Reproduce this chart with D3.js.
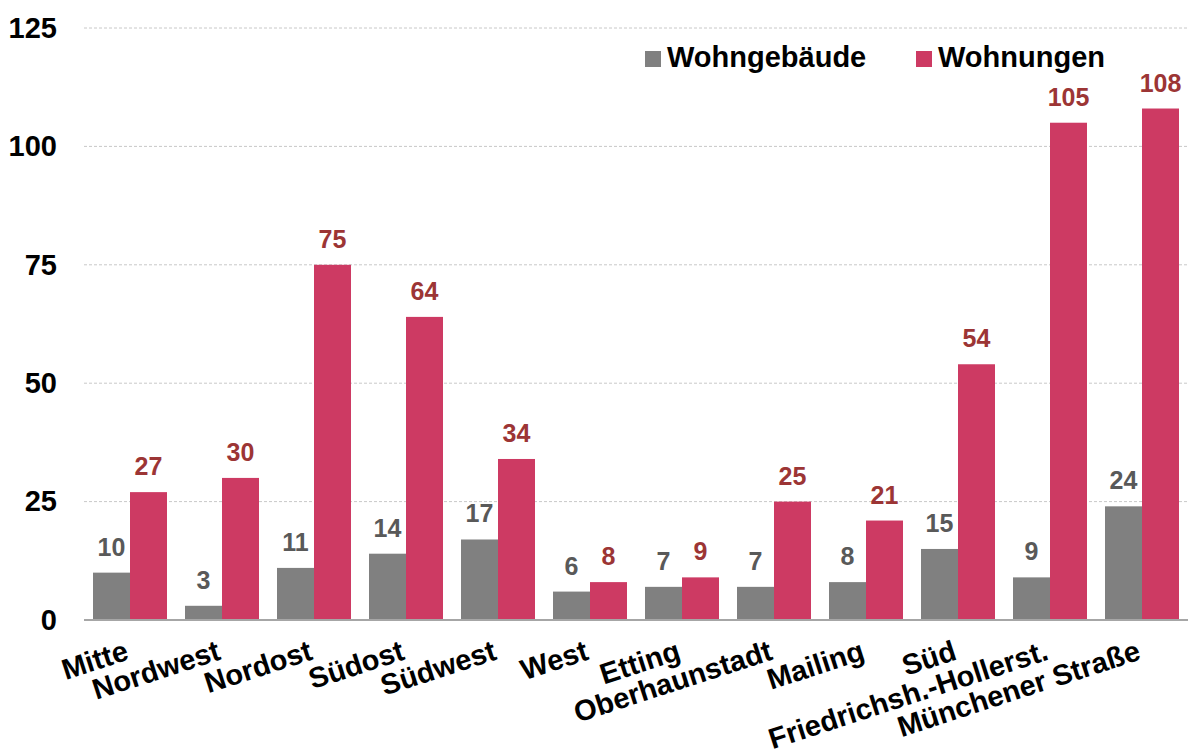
<!DOCTYPE html>
<html>
<head>
<meta charset="utf-8">
<script src="https://cdn.jsdelivr.net/npm/d3@7"></script>
<style>
  html, body { margin: 0; padding: 0; background: #fff; }
  svg { display: block; font-family: "Liberation Sans", Arial, sans-serif; }
</style>
</head>
<body>
<svg id="chart" width="1192" height="756"></svg>
<script>
// Stadtbezirke
const categories = ["Mitte", "Nordwest", "Nordost", "Südost", "Südwest", "West", "Etting",
  "Oberhaunstadt", "Mailing", "Süd", "Friedrichsh.-Hollerst.", "Münchener Straße"];
const seriesNames = ["Wohngebäude", "Wohnungen"];
const wohngebaeude = [10, 3, 11, 14, 17, 6, 7, 7, 8, 15, 9, 24];
const wohnungen = [27, 30, 75, 64, 34, 8, 9, 25, 21, 54, 105, 108];
const yTicks = [0, 25, 50, 75, 100, 125];

const barColors = ["#808080", "#CD3A63"];
const labelColors = ["#595959", "#9C3535"];

const svg = d3.select("#chart");
const plot = { left: 84, right: 1188, top: 28, bottom: 620 };

const x = d3.scaleBand().domain(categories)
  .range([plot.left, plot.right])
  .paddingInner(18 / 92).paddingOuter(9 / 92);
const xs = d3.scaleBand().domain(seriesNames).range([0, x.bandwidth()]);
const y = d3.scaleLinear().domain([0, 125]).range([plot.bottom, plot.top]);

// Gridlines
svg.append("g").selectAll("line")
  .data(yTicks.filter(t => t > 0))
  .join("line")
  .attr("x1", plot.left).attr("x2", plot.right)
  .attr("y1", d => y(d)).attr("y2", d => y(d))
  .attr("stroke", "#c8c8c8").attr("stroke-width", 1)
  .attr("stroke-dasharray", "3,2");

// Y axis labels
const yAxis = d3.axisLeft(y).tickValues(yTicks).tickSize(0).tickPadding(0).tickFormat(d3.format("d"));
const yg = svg.append("g").attr("transform", `translate(57,0)`).call(yAxis);
yg.select(".domain").remove();
yg.selectAll("text")
  .attr("font-family", "Liberation Sans, Arial, sans-serif")
  .attr("font-size", 29).attr("font-weight", "bold").attr("fill", "#000");

// Bars
const seriesData = [wohngebaeude, wohnungen];
seriesData.forEach((vals, si) => {
  const g = svg.append("g");
  g.selectAll("rect").data(vals).join("rect")
    .attr("x", (d, i) => x(categories[i]) + xs(seriesNames[si]))
    .attr("y", d => y(d))
    .attr("width", xs.bandwidth())
    .attr("height", d => y(0) - y(d))
    .attr("fill", barColors[si]);
  g.selectAll("text").data(vals).join("text")
    .attr("x", (d, i) => x(categories[i]) + xs(seriesNames[si]) + xs.bandwidth() / 2)
    .attr("y", d => y(d) - 17)
    .attr("text-anchor", "middle")
    .attr("font-size", 25).attr("font-weight", "bold")
    .attr("fill", labelColors[si])
    .text(d => d);
});

// Baseline
svg.append("line")
  .attr("x1", plot.left).attr("x2", plot.right)
  .attr("y1", y(0)).attr("y2", y(0))
  .attr("stroke", "#a6a6a6").attr("stroke-width", 2);

// X axis labels (rotated)
svg.append("g").selectAll("text").data(categories).join("text")
  .attr("transform", d => `translate(${x(d) + x.bandwidth() / 2},${plot.bottom + 39}) rotate(-18)`)
  .attr("text-anchor", "end")
  .attr("font-size", 29).attr("font-weight", "bold").attr("fill", "#000")
  .text(d => d);

// Legend
const legendItems = [{ name: seriesNames[0], x: 645 }, { name: seriesNames[1], x: 916 }];
const lg = svg.append("g");
legendItems.forEach((it, i) => {
  lg.append("rect").attr("x", it.x).attr("y", 51).attr("width", 16).attr("height", 16)
    .attr("fill", barColors[i]);
  lg.append("text").attr("x", it.x + 22).attr("y", 67)
    .attr("font-size", 29).attr("font-weight", "bold").attr("fill", "#000")
    .text(it.name);
});
</script>
</body>
</html>
